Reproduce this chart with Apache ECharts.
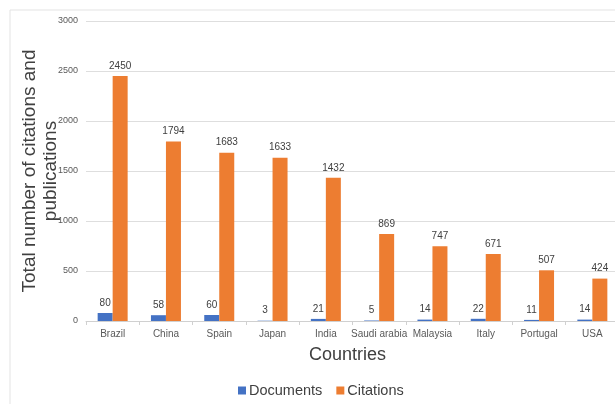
<!DOCTYPE html>
<html><head><meta charset="utf-8">
<script src="https://cdn.jsdelivr.net/npm/echarts@6/dist/echarts.min.js"></script>
<style>html,body{margin:0;padding:0;background:#fff}#c{width:615px;height:404px}</style>
</head><body><div id="c"></div>
<script>
const countries = ['Brazil','China','Spain','Japan','India','Saudi arabia','Malaysia','Italy','Portugal','USA'];
const documents = [80,58,60,3,21,5,14,22,11,14];
const citations = [2450,1794,1683,1633,1432,869,747,671,507,424];
const yTicks = {min:0, max:3000, interval:500};

const chart = echarts.init(document.getElementById('c'));
const font = 'Liberation Sans, Arial, sans-serif';
const lbl = {show:true, position:'top', fontSize:10, color:'#404040', fontFamily:font, distance:5};
chart.setOption({
  animation:false,
  textStyle:{fontFamily:font},
  graphic:[{type:'rect', shape:{x:10,y:10,width:700,height:500}, style:{fill:'none', stroke:'#e3e3e3', lineWidth:1}, silent:true, z:-1}],
  grid:{left:86, top:21, bottom:83, right:-4, containLabel:false, outerBoundsMode:'none'},
  legend:{top:378, left:233, itemWidth:8, itemHeight:8, itemGap:14, icon:'rect',
    textStyle:{fontSize:14.5, color:'#404040', fontFamily:font, padding:[0,0,0,-2]},
    data:['Documents','Citations']},
  xAxis:{type:'category', data:countries,
    name:'Countries', nameLocation:'middle', nameGap:25, nameMoveOverlap:false,
    nameTextStyle:{fontSize:18, color:'#404040', fontFamily:font, padding:[0,10,0,0]},
    axisLine:{lineStyle:{color:'#d0d0d0'}}, axisTick:{show:true, lineStyle:{color:'#d0d0d0'}, length:4},
    axisLabel:{fontSize:10, color:'#595959', margin:8, fontFamily:font, interval:0}},
  yAxis:{type:'value', min:yTicks.min, max:yTicks.max, interval:yTicks.interval,
    name:'Total number of citations and\npublications', nameLocation:'middle', nameGap:25, nameMoveOverlap:false,
    nameTextStyle:{fontSize:19, color:'#404040', fontFamily:font, lineHeight:21},
    axisLine:{show:false}, axisTick:{show:false},
    axisLabel:{fontSize:9, color:'#595959', margin:8, fontFamily:font, formatter:v=>String(v)},
    splitLine:{lineStyle:{color:'#dedede'}}},
  series:[
    {name:'Documents', type:'bar', data:documents, barWidth:15, barGap:'0%', itemStyle:{color:'#4472C4'}, label:lbl},
    {name:'Citations', type:'bar', data:citations, barWidth:15, barGap:'0%', itemStyle:{color:'#ED7D31'}, label:lbl}
  ]
});
</script></body></html>
